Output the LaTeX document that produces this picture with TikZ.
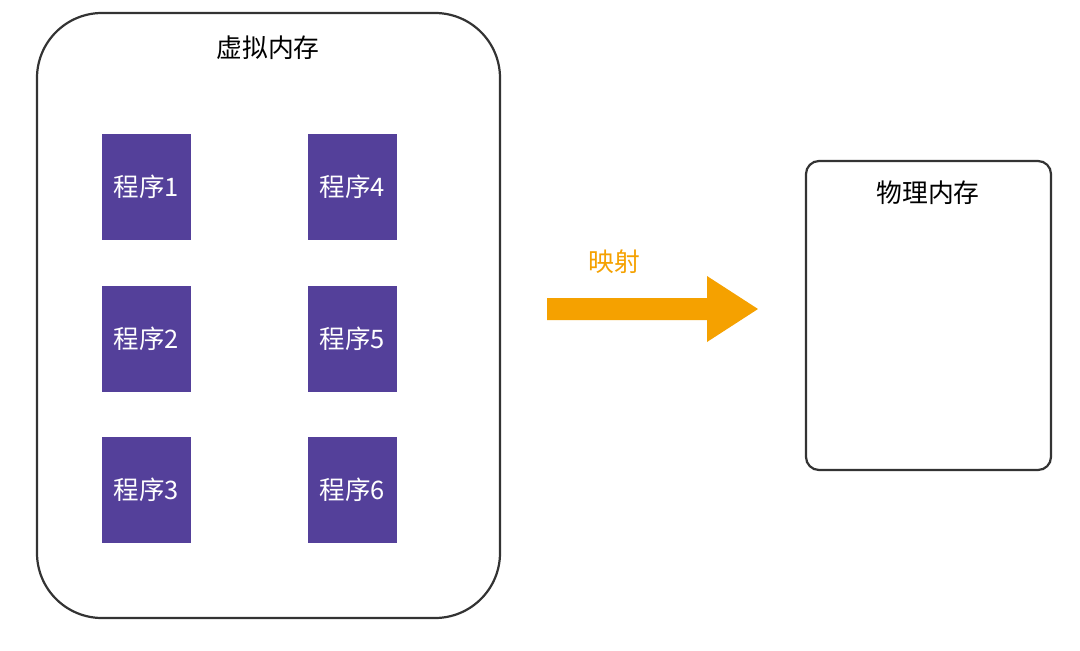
\documentclass[tikz,border=0pt]{standalone}
\usepackage{fontspec}
\setmainfont{Noto Sans CJK SC}
\definecolor{progpurple}{HTML}{54409A}
\definecolor{maporange}{HTML}{F5A100}
\definecolor{edgegray}{HTML}{333333}
\begin{document}
\begin{tikzpicture}[x=1pt,y=-1pt,
  frame/.style={draw=edgegray,line width=2.2pt,fill=white,inner sep=0pt},
  prog/.style={fill=progpurple,text=white,minimum width=89pt,minimum height=106pt,inner sep=0pt,font=\fontsize{25.5}{25.5}\selectfont},
  title/.style={text=black,inner sep=0pt,font=\fontsize{25.8}{25.8}\selectfont}]
\useasboundingbox (0,0) rectangle (1080,651);
\fill[white] (0,0) rectangle (1080,651);
% virtual memory frame
\node[frame,rounded corners=65pt,minimum width=463pt,minimum height=605pt] (vm) at (268.5,315.5) {};
\node[title] (vmt) at (268,48) {虚拟内存};
% programs
\node[prog] (p1) at (146.5,187) {程序1};
\node[prog] (p2) at (146.5,338.5) {程序2};
\node[prog] (p3) at (146.5,490) {程序3};
\node[prog] (p4) at (352.5,187) {程序4};
\node[prog] (p5) at (352.5,338.5) {程序5};
\node[prog] (p6) at (352.5,490) {程序6};
% physical memory frame
\node[frame,rounded corners=13pt,minimum width=245pt,minimum height=309pt] (pm) at (928.5,315.5) {};
\node[title] (pmt) at (928,193) {物理内存};
% mapping arrow
\fill[maporange] (547,298) -- (707,298) -- (707,276) -- (758,309) -- (707,342) -- (707,320) -- (547,320) -- cycle;
\node[title,text=maporange] (mapl) at (614,262) {映射};
\end{tikzpicture}
\end{document}
